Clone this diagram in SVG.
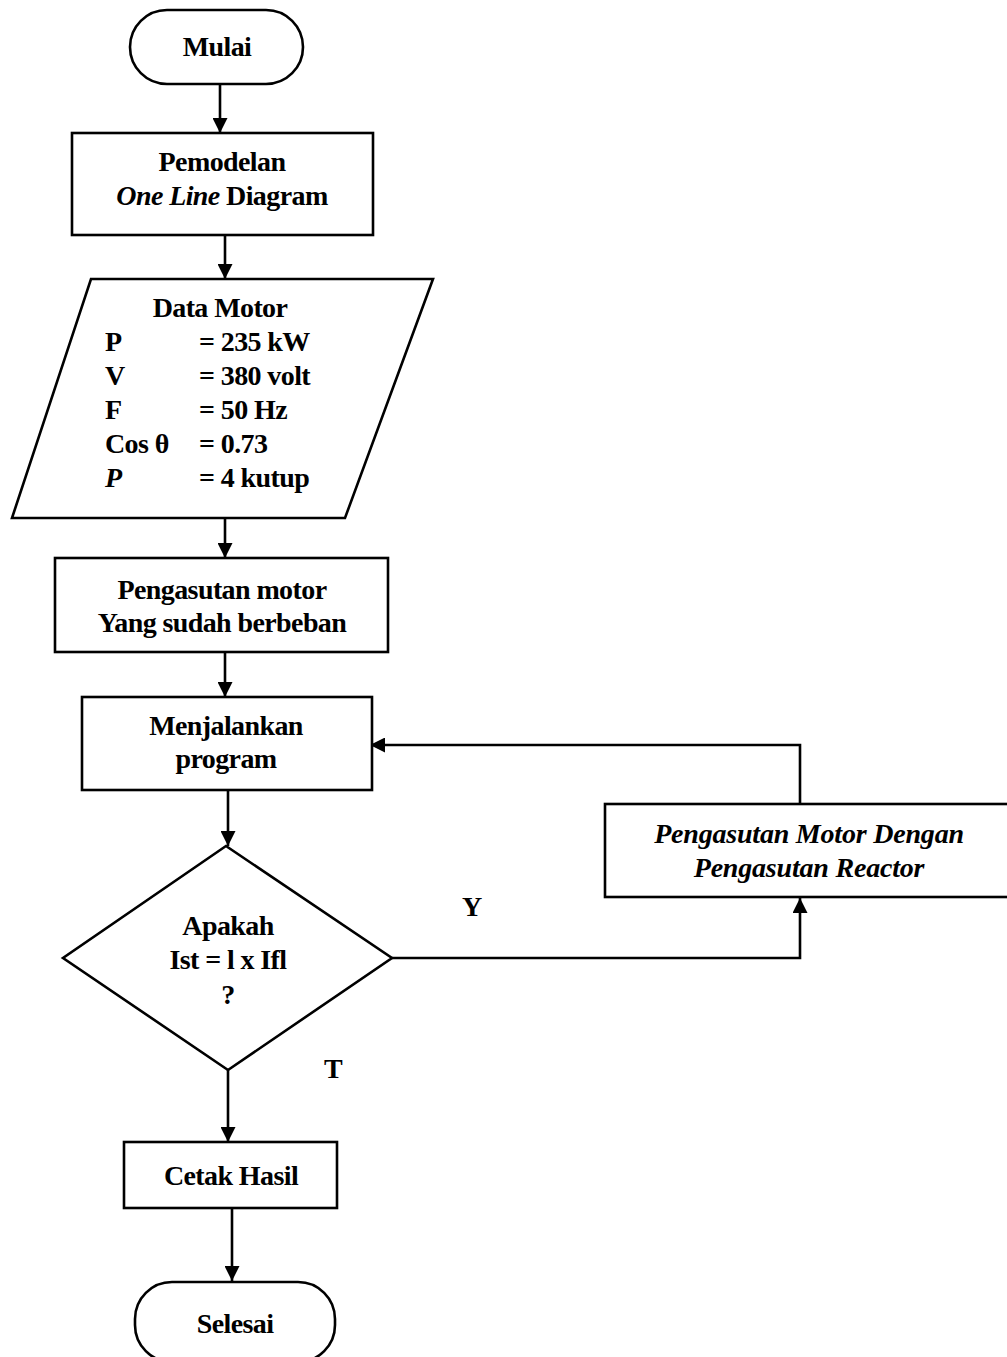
<svg xmlns="http://www.w3.org/2000/svg" width="1007" height="1357" viewBox="0 0 1007 1357">
<defs>
<marker id="ah" viewBox="0 0 10 10" refX="10" refY="5" markerWidth="16" markerHeight="15" markerUnits="userSpaceOnUse" orient="auto"><path d="M0,0 L10,5 L0,10 z" fill="#000"/></marker>
<style>
.s{fill:#fff;stroke:#000;stroke-width:2.6}
.t{font-family:"Liberation Serif","Times New Roman",serif;font-size:28px;font-weight:bold;fill:#000;letter-spacing:-0.6px}
.c{text-anchor:middle}
.i{font-style:italic}
.l{fill:none;stroke:#000;stroke-width:2.6}
</style>
</defs>
<rect width="1007" height="1357" fill="#fff"/>
<g id="connectors">
<line class="l" x1="220" y1="84" x2="220" y2="133" marker-end="url(#ah)"/>
<line class="l" x1="225" y1="235" x2="225" y2="279" marker-end="url(#ah)"/>
<line class="l" x1="225" y1="518" x2="225" y2="558" marker-end="url(#ah)"/>
<line class="l" x1="225" y1="652" x2="225" y2="697" marker-end="url(#ah)"/>
<line class="l" x1="228" y1="790" x2="228" y2="846" marker-end="url(#ah)"/>
<polyline class="l" points="392,958 800,958 800,898" marker-end="url(#ah)"/>
<polyline class="l" points="800,804 800,745 370,745" marker-end="url(#ah)"/>
<line class="l" x1="228" y1="1070" x2="228" y2="1142" marker-end="url(#ah)"/>
<line class="l" x1="232" y1="1208" x2="232" y2="1281" marker-end="url(#ah)"/>
<text class="t" x="462" y="916">Y</text>
<text class="t" x="324" y="1078">T</text>
</g>
<g id="mulai">
<rect class="s" x="130" y="10" width="173" height="74" rx="37"/>
<text class="t c" x="217" y="56">Mulai</text>
</g>
<g id="pemodelan">
<rect class="s" x="72" y="133" width="301" height="102"/>
<text class="t c" x="222" y="171">Pemodelan</text>
<text class="t c" x="222" y="205"><tspan class="i">One Line</tspan> Diagram</text>
</g>
<g id="data-motor">
<polygon class="s" points="91,279 433,279 345,518 12,518"/>
<text class="t c" x="220" y="317">Data Motor</text>
<text class="t" x="105" y="351">P</text><text class="t" x="199" y="351">= 235 kW</text>
<text class="t" x="105" y="385">V</text><text class="t" x="199" y="385">= 380 volt</text>
<text class="t" x="105" y="419">F</text><text class="t" x="199" y="419">= 50 Hz</text>
<text class="t" x="105" y="453">Cos θ</text><text class="t" x="199" y="453">= 0.73</text>
<text class="t i" x="105" y="487">P</text><text class="t" x="199" y="487">= 4 kutup</text>
</g>
<g id="pengasutan">
<rect class="s" x="55" y="558" width="333" height="94"/>
<text class="t c" x="222" y="599">Pengasutan motor</text>
<text class="t c" x="222" y="632">Yang sudah berbeban</text>
</g>
<g id="menjalankan">
<rect class="s" x="82" y="697" width="290" height="93"/>
<text class="t c" x="226" y="735">Menjalankan</text>
<text class="t c" x="226" y="768">program</text>
</g>
<g id="keputusan">
<polygon class="s" points="226,846 392,958 228,1070 63,958"/>
<text class="t c" x="228" y="935">Apakah</text>
<text class="t c" x="228" y="969">Ist = l x Ifl</text>
<text class="t c" x="228" y="1004">?</text>
</g>
<g id="reactor">
<rect class="s" x="605" y="804" width="405" height="93"/>
<text class="t c i" x="809" y="843" style="letter-spacing:-0.2px">Pengasutan Motor Dengan</text>
<text class="t c i" x="809" y="877" style="letter-spacing:-0.2px">Pengasutan Reactor</text>
</g>
<g id="cetak">
<rect class="s" x="124" y="1142" width="213" height="66"/>
<text class="t c" x="231" y="1185">Cetak Hasil</text>
</g>
<g id="selesai">
<rect class="s" x="135" y="1282" width="200" height="80" rx="37"/>
<text class="t c" x="235" y="1333">Selesai</text>
</g>
</svg>
